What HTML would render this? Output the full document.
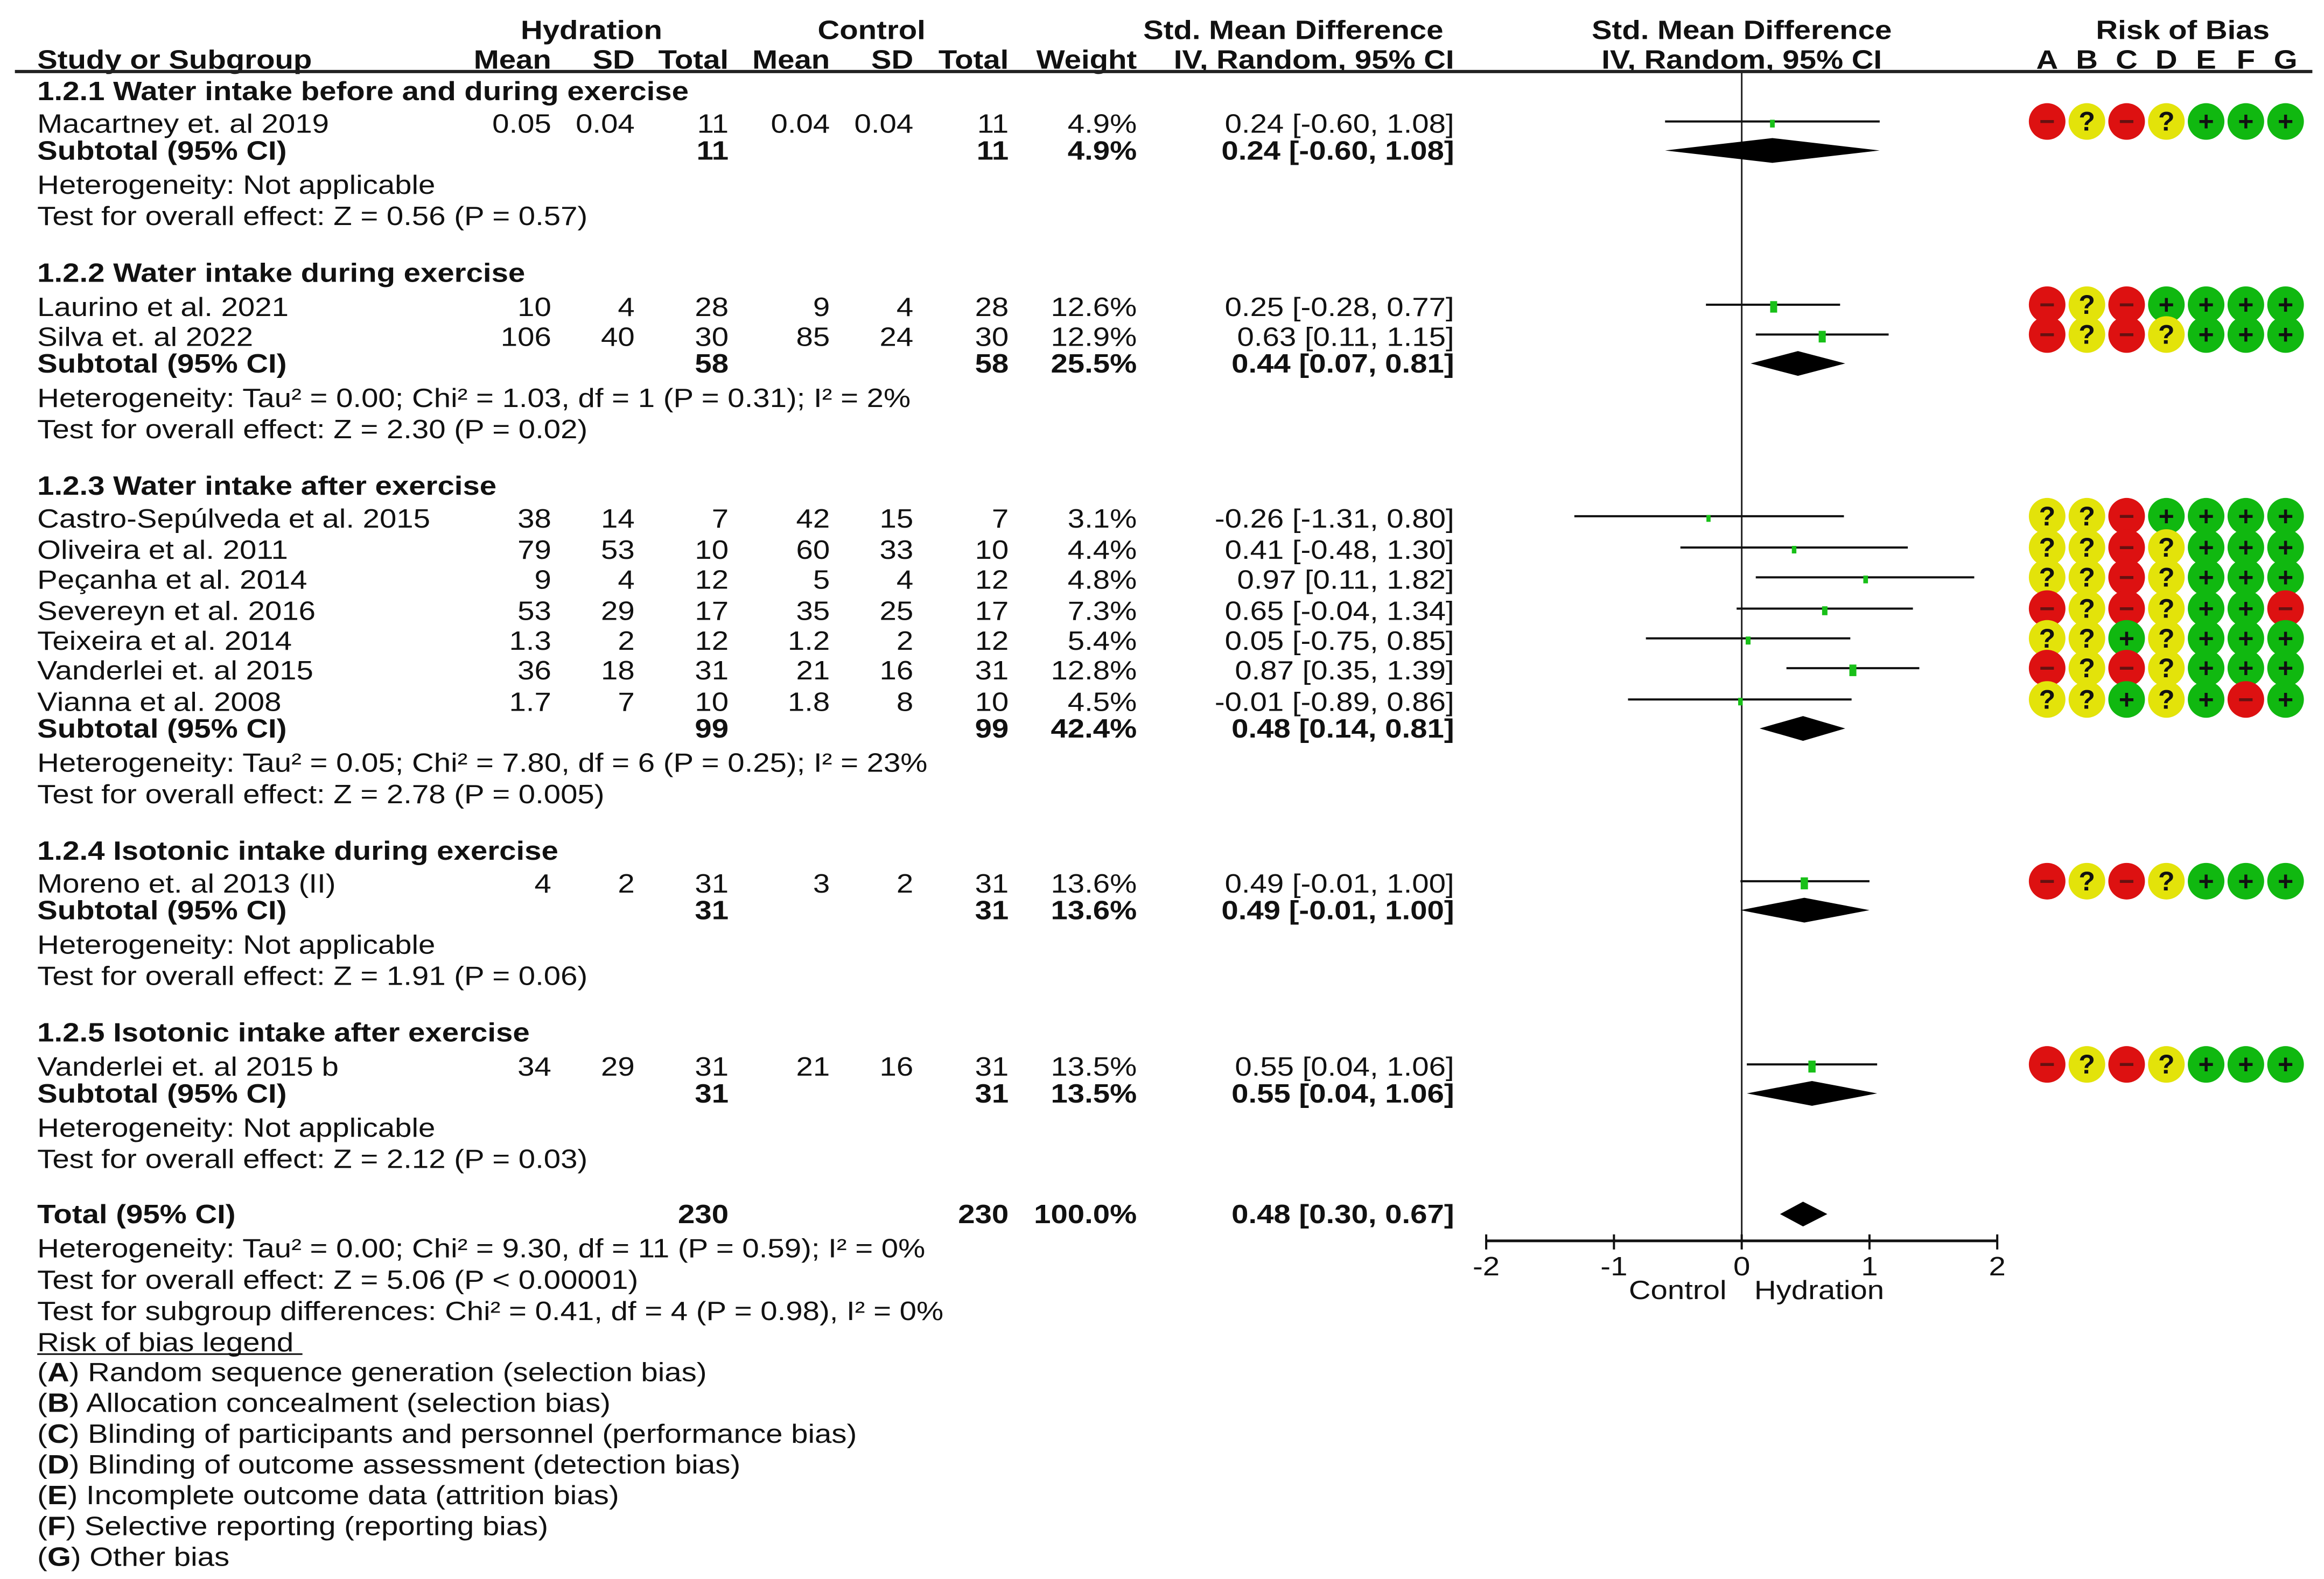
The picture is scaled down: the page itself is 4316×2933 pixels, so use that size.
<!DOCTYPE html>
<html><head><meta charset="utf-8"><style>
html,body{margin:0;padding:0;background:#fff;}
svg{display:block;font-family:"Liberation Sans",Arial,sans-serif;}
</style></head><body>
<svg id="chart" width="4316" height="2933" viewBox="0 0 4316 2933" xmlns="http://www.w3.org/2000/svg"></svg>
<script>
const S = 2.767;
// ---- data ----
const studyNames = ["Macartney et. al 2019","Laurino et al. 2021","Silva et. al 2022","Castro-Sepúlveda et al. 2015","Oliveira et al. 2011","Peçanha et al. 2014","Severeyn et al. 2016","Teixeira et al. 2014","Vanderlei et. al 2015","Vianna et al. 2008","Moreno et. al 2013 (II)","Vanderlei et. al 2015 b"];
const hMean = ["0.05","10","106","38","79","9","53","1.3","36","1.7","4","34"];
const hSD = ["0.04","4","40","14","53","4","29","2","18","7","2","29"];
const hN = [11,28,30,7,10,12,17,12,31,10,31,31];
const cMean = ["0.04","9","85","42","60","5","35","1.2","21","1.8","3","21"];
const cSD = ["0.04","4","24","15","33","4","25","2","16","8","2","16"];
const cN = [11,28,30,7,10,12,17,12,31,10,31,31];
const weights = [4.9,12.6,12.9,3.1,4.4,4.8,7.3,5.4,12.8,4.5,13.6,13.5];
const smd = [0.24,0.25,0.63,-0.26,0.41,0.97,0.65,0.05,0.87,-0.01,0.49,0.55];
const ciLo = [-0.60,-0.28,0.11,-1.31,-0.48,0.11,-0.04,-0.75,0.35,-0.89,-0.01,0.04];
const ciHi = [1.08,0.77,1.15,0.80,1.30,1.82,1.34,0.85,1.39,0.86,1.00,1.06];
const rob = ["-?-?+++","-?-++++","-?-?+++","??-++++","??-?+++","??-?+++","-?-?++-","??+?+++","-?-?+++","??+?+-+","-?-?+++","-?-?+++"];
const groupTitles = ["1.2.1 Water intake before and during exercise","1.2.2 Water intake during exercise","1.2.3 Water intake after exercise","1.2.4 Isotonic intake during exercise","1.2.5 Isotonic intake after exercise"];
const groupStudies = [[0],[1,2],[3,4,5,6,7,8,9],[10],[11]];
const subN = [11,58,99,31,31];
const subW = ["4.9%","25.5%","42.4%","13.6%","13.5%"];
const subEst = [0.24,0.44,0.48,0.49,0.55];
const subLo = [-0.60,0.07,0.14,-0.01,0.04];
const subHi = [1.08,0.81,0.81,1.00,1.06];
const subHet = ["Heterogeneity: Not applicable","Heterogeneity: Tau² = 0.00; Chi² = 1.03, df = 1 (P = 0.31); I² = 2%","Heterogeneity: Tau² = 0.05; Chi² = 7.80, df = 6 (P = 0.25); I² = 23%","Heterogeneity: Not applicable","Heterogeneity: Not applicable"];
const subTest = ["Test for overall effect: Z = 0.56 (P = 0.57)","Test for overall effect: Z = 2.30 (P = 0.02)","Test for overall effect: Z = 2.78 (P = 0.005)","Test for overall effect: Z = 1.91 (P = 0.06)","Test for overall effect: Z = 2.12 (P = 0.03)"];
const totalEst = 0.48, totalLo = 0.30, totalHi = 0.67;
const axisTicks = [-2,-1,0,1,2];
const robCols = ["A","B","C","D","E","F","G"];
const legendItems = [["A","Random sequence generation (selection bias)"],["B","Allocation concealment (selection bias)"],["C","Blinding of participants and personnel (performance bias)"],["D","Blinding of outcome assessment (detection bias)"],["E","Incomplete outcome data (attrition bias)"],["F","Selective reporting (reporting bias)"],["G","Other bias"]];

// ---- layout ----
const svg = document.getElementById('chart');
const NS = "http://www.w3.org/2000/svg";
const FS = 49, SX = 1.15;
const x0 = 1169*S, unit = 85.75*S;
const xs = v => x0 + v*unit;
function el(tag, attrs, name, parent){
  const e = document.createElementNS(NS, tag);
  for (const k in attrs) e.setAttribute(k, attrs[k]);
  
  
  (parent||svg).appendChild(e);
  return e;
}
function txt(s, x, yc, opts, name){
  opts = opts||{};
  const t = el('text', {x:0, y:0, transform:`translate(${x},${yc+17}) scale(${SX},1)`, 'font-size':opts.fs||FS, 'text-anchor':opts.anchor||'start', 'font-weight':opts.bold?'bold':'normal', fill:'#111'}, name);
  t.textContent = s;
  return t;
}
const colMean1=370*S, colSD1=426*S, colN1=489*S, colMean2=557*S, colSD2=613*S, colN2=677*S, colW=763*S, colCI=976*S;
const L = 25*S;

// headers
txt("Hydration", 397*S, 20*S, {anchor:'middle',bold:true}, 'hydration-group-header');
txt("Control", 585*S, 20*S, {anchor:'middle',bold:true}, 'control-group-header');
txt("Std. Mean Difference", 868*S, 20*S, {anchor:'middle',bold:true}, 'smd-header');
txt("Std. Mean Difference", 1169*S, 20*S, {anchor:'middle',bold:true}, 'plot-header');
txt("Risk of Bias", 1465*S, 20*S, {anchor:'middle',bold:true}, 'risk-of-bias-header');
txt("Study or Subgroup", L, 40*S, {bold:true}, 'study-column-header');
[["Mean",colMean1],["SD",colSD1],["Total",colN1],["Mean",colMean2],["SD",colSD2],["Total",colN2],["Weight",colW],["IV, Random, 95% CI",colCI]].forEach((h,i)=>txt(h[0],h[1],40*S,{anchor:'end',bold:true},'column-header-'+i));
txt("IV, Random, 95% CI", 1169*S, 40*S, {anchor:'middle',bold:true}, 'plot-subheader');
const robX = i => (1374 + i*26.67)*S;
robCols.forEach((c,i)=>txt(c, robX(i), 40*S, {anchor:'middle',bold:true}, 'rob-column-'+c));
el('line',{x1:10*S,x2:1552*S,y1:48*S,y2:48*S,stroke:'#222','stroke-width':6},'header-rule');

// null line & axis
const axisY = 833*S;
el('line',{x1:x0,x2:x0,y1:48*S,y2:axisY,stroke:'#222','stroke-width':3},'null-line');
el('line',{x1:xs(-2),x2:xs(2),y1:axisY,y2:axisY,stroke:'#111','stroke-width':5},'x-axis');
axisTicks.forEach(v=>{
  el('line',{x1:xs(v),x2:xs(v),y1:axisY-12,y2:axisY+16,stroke:'#111','stroke-width':4},'x-tick');
  txt(String(v), xs(v), 850*S, {anchor:'middle'}, 'x-tick-label');
});
txt("Control", 1126*S, 866*S, {anchor:'middle'}, 'favours-control-label');
txt("Hydration", 1221*S, 866*S, {anchor:'middle'}, 'favours-hydration-label');

function diamond(est, lo, hi, yc, h, name){
  el('polygon',{points:`${xs(lo)},${yc} ${xs(est)},${yc-h/2} ${xs(hi)},${yc} ${xs(est)},${yc+h/2}`,fill:'#000'},name);
}
const robFill = {"+":"#10b810","-":"#dd1111","?":"#e3e30a"};
const robSym = {"+":"+","-":"−","?":"?"};

// rows
const groupY = [61,183,326,571,693];
const studyRowY = [[83],[206,226],[348,369,389,410,430,450,471],[593],[716]];
groupTitles.forEach((g,gi)=>{
  txt(g, L, groupY[gi]*S, {bold:true}, 'subgroup-title');
  const ys = studyRowY[gi];
  groupStudies[gi].forEach((si,k)=>{
    const yc = ys[k]*S;
    txt(studyNames[si], L, yc, {}, 'study-name');
    txt(hMean[si], colMean1, yc, {anchor:'end'}, 'hydration-mean');
    txt(hSD[si], colSD1, yc, {anchor:'end'}, 'hydration-sd');
    txt(String(hN[si]), colN1, yc, {anchor:'end'}, 'hydration-total');
    txt(cMean[si], colMean2, yc, {anchor:'end'}, 'control-mean');
    txt(cSD[si], colSD2, yc, {anchor:'end'}, 'control-sd');
    txt(String(cN[si]), colN2, yc, {anchor:'end'}, 'control-total');
    txt(weights[si].toFixed(1)+"%", colW, yc, {anchor:'end'}, 'study-weight');
    txt(`${smd[si].toFixed(2)} [${ciLo[si].toFixed(2)}, ${ciHi[si].toFixed(2)}]`, colCI, yc, {anchor:'end'}, 'study-ci-text');
    el('line',{x1:xs(ciLo[si]),x2:xs(ciHi[si]),y1:yc-4,y2:yc-4,stroke:'#111','stroke-width':4},'ci-line');
    const w = 6 + weights[si]*0.55, h = 10 + weights[si]*0.9;
    el('rect',{x:xs(smd[si])-w/2,y:yc-h/2,width:w,height:h,fill:'#18c018'},'effect-square');
    rob[si].split('').forEach((r,ci)=>{
      const cx = robX(ci);
      el('ellipse',{cx:cx,cy:yc-4,rx:34,ry:34,fill:robFill[r]},'rob-circle-'+robCols[ci]);
      const t = el('text',{x:cx,y:yc+13,'font-size':50,'font-weight':'bold','text-anchor':'middle',fill:r==='-'?'#661111':'#111'},'rob-symbol');
      t.textContent = robSym[r];
    });
  });
  const sy = (ys[ys.length-1]+18)*S;
  txt("Subtotal (95% CI)", L, sy, {bold:true}, 'subtotal-label');
  txt(String(subN[gi]), colN1, sy, {anchor:'end',bold:true}, 'subtotal-hydration-n');
  txt(String(subN[gi]), colN2, sy, {anchor:'end',bold:true}, 'subtotal-control-n');
  txt(subW[gi], colW, sy, {anchor:'end',bold:true}, 'subtotal-weight');
  txt(`${subEst[gi].toFixed(2)} [${subLo[gi].toFixed(2)}, ${subHi[gi].toFixed(2)}]`, colCI, sy, {anchor:'end',bold:true}, 'subtotal-ci-text');
  diamond(subEst[gi], subLo[gi], subHi[gi], sy, 46, 'subtotal-diamond');
  txt(subHet[gi], L, sy+23*S, {}, 'subgroup-heterogeneity');
  txt(subTest[gi], L, sy+44*S, {}, 'subgroup-overall-effect');
});

// total
const ty = 815*S;
txt("Total (95% CI)", L, ty, {bold:true}, 'total-label');
txt("230", colN1, ty, {anchor:'end',bold:true}, 'total-hydration-n');
txt("230", colN2, ty, {anchor:'end',bold:true}, 'total-control-n');
txt("100.0%", colW, ty, {anchor:'end',bold:true}, 'total-weight');
txt(`${totalEst.toFixed(2)} [${totalLo.toFixed(2)}, ${totalHi.toFixed(2)}]`, colCI, ty, {anchor:'end',bold:true}, 'total-ci-text');
diamond(totalEst, totalLo, totalHi, ty, 46, 'total-diamond');
txt("Heterogeneity: Tau² = 0.00; Chi² = 9.30, df = 11 (P = 0.59); I² = 0%", L, 838*S, {}, 'total-heterogeneity');
txt("Test for overall effect: Z = 5.06 (P < 0.00001)", L, 859*S, {}, 'total-overall-effect');
txt("Test for subgroup differences: Chi² = 0.41, df = 4 (P = 0.98), I² = 0%", L, 880*S, {}, 'subgroup-differences');
txt("Risk of bias legend", L, 901*S, {}, 'rob-legend-title');
el('line',{x1:L,x2:203*S,y1:909*S,y2:909*S,stroke:'#111','stroke-width':3},'rob-legend-underline');
legendItems.forEach((it,i)=>{
  const yc = (921+i*20.67)*S;
  const t = el('text',{x:0,y:0,transform:`translate(${L},${yc+17}) scale(${SX},1)`,'font-size':FS,fill:'#111'},'rob-legend-item');
  const a = document.createElementNS(NS,'tspan'); a.textContent='(';
  const b = document.createElementNS(NS,'tspan'); b.setAttribute('font-weight','bold'); b.textContent=it[0];
  const c = document.createElementNS(NS,'tspan'); c.textContent=') '+it[1];
  t.appendChild(a); t.appendChild(b); t.appendChild(c);
});
</script>
</body></html>
